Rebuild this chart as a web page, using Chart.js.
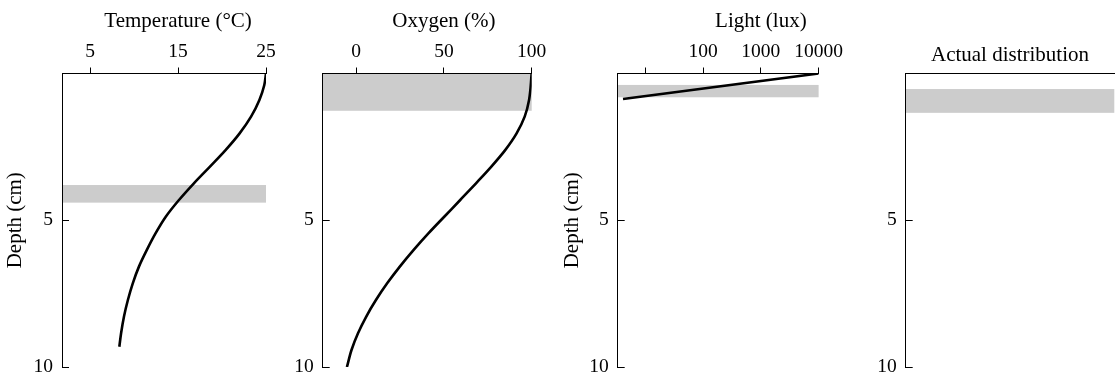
<!DOCTYPE html>
<html>
<head>
<meta charset="utf-8">
<script src="https://cdn.jsdelivr.net/npm/chart.js@4.4.1/dist/chart.umd.min.js"></script>
<style>
  html, body { margin: 0; padding: 0; background: #fff; width: 1118px; height: 377px; overflow: hidden; }
  canvas { position: absolute; top: 0; }
</style>
</head>
<body>
<canvas id="tempChart" width="290" height="400" style="left:0px"></canvas>
<canvas id="oxyChart" width="270" height="400" style="left:290px"></canvas>
<canvas id="lightChart" width="290" height="400" style="left:557px"></canvas>
<canvas id="distChart" width="268" height="400" style="left:850px"></canvas>
<script>
// ---- data ----
const depthTicks = [5, 10];

const tempDepth  = [0, 0.4, 0.9, 1.47, 2.04, 2.61, 3.18, 3.74, 4.31, 4.88, 5.44, 6.01, 6.58, 7.15, 7.71, 8.28, 8.85, 9.31];
const tempValues = [25, 24.8, 24.25, 23.3, 22.0, 20.4, 18.6, 16.8, 15.1, 13.6, 12.45, 11.45, 10.55, 9.85, 9.3, 8.85, 8.52, 8.32];
const tempTicks  = [5, 15, 25];
const tempBand   = [3.8, 4.4];

const oxyDepth  = [0, 0.9, 1.47, 2.04, 2.61, 3.18, 3.74, 4.31, 4.88, 5.44, 6.01, 6.58, 7.15, 7.71, 8.28, 8.85, 9.42, 10];
const oxyValues = [100, 98.5, 96, 91.4, 84.9, 76.9, 68.3, 59.3, 50.2, 41.3, 32.8, 24.9, 17.7, 11.4, 5.8, 1.1, -2.6, -5.2];
const oxyTicks  = [0, 50, 100];
const oxyBand   = [0, 1.27];

const lightDepth  = [0, 0.87];
const lightValues = [10000, 4.1];
const lightTicks  = [10, 100, 1000, 10000];
const lightBand   = [0.39, 0.81];

const distBand = [0.53, 1.34];

// ---- styling ----
const FONT = "'Liberation Serif', 'Times New Roman', serif";
const tickFont = { family: FONT, size: 19.5 };
const TITLE_SIZE = 21;
const BAND_COLOR = "#cccccc";
const AXIS_TOP = 73.5;   // height reserved for the top axis
const PAD_BOTTOM = 33;   // canvas is 400 tall, plot ends at 367

const bandPlugin = {
  id: "band",
  beforeDraw(chart, args, opts) {
    if (!opts.range) return;
    const { ctx, chartArea, scales } = chart;
    const top = scales.y.getPixelForValue(opts.range[0]);
    const bottom = scales.y.getPixelForValue(opts.range[1]);
    ctx.save();
    ctx.fillStyle = BAND_COLOR;
    ctx.fillRect(chartArea.left, top, chartArea.right - chartArea.left, bottom - top);
    ctx.restore();
  }
};

// panel heading, centred over the labelled part of the top axis
const headPlugin = {
  id: "head",
  afterDraw(chart, args, opts) {
    if (!opts.text) return;
    const { ctx, scales } = chart;
    const cx = (scales.x.getPixelForValue(opts.from) + scales.x.getPixelForValue(opts.to)) / 2;
    ctx.save();
    ctx.font = TITLE_SIZE + "px " + FONT;
    ctx.fillStyle = "#000";
    ctx.textAlign = "center";
    ctx.textBaseline = "middle";
    ctx.fillText(opts.text, cx, opts.y);
    ctx.restore();
  }
};

function curve(depths, values) {
  return {
    data: depths.map((d, i) => ({ x: values[i], y: d })),
    borderColor: "#000",
    borderWidth: 2.6,
    pointRadius: 0,
    cubicInterpolationMode: "monotone",
    fill: false
  };
}

function makePanel(id, cfg) {
  const xScale = Object.assign({
    position: "top",
    afterBuildTicks: s => { s.ticks = cfg.xTicks.map(v => ({ value: v })); },
    afterFit: s => { s.height = AXIS_TOP; },
    grid: { drawOnChartArea: false, tickLength: 6, tickColor: "#000", tickWidth: 1 },
    border: { color: "#000", width: 1 },
    ticks: {
      display: cfg.xTicks.length > 0,
      padding: 4,
      color: "#000",
      font: tickFont,
      maxRotation: 0,
      autoSkip: false
    }
  }, cfg.x);

  return new Chart(document.getElementById(id), {
    type: "line",
    data: { datasets: cfg.datasets },
    options: {
      responsive: false,
      animation: false,
      indexAxis: "y",
      layout: { padding: { left: 0, top: 0, right: cfg.padRight, bottom: PAD_BOTTOM } },
      plugins: {
        legend: { display: false },
        tooltip: { enabled: false },
        band: { range: cfg.band },
        head: cfg.head
      },
      scales: {
        x: xScale,
        y: {
          type: "linear",
          reverse: true,
          min: 0,
          max: 10,
          afterBuildTicks: s => { s.ticks = depthTicks.map(v => ({ value: v })); },
          afterFit: s => { s.width = cfg.yWidth; },
          grid: { drawOnChartArea: false, tickLength: -7, tickColor: "#000", tickWidth: 1 },
          border: { color: "#000", width: 1 },
          ticks: { padding: 16, color: "#000", font: tickFont },
          title: {
            display: !!cfg.yTitle,
            text: "Depth (cm)",
            color: "#000",
            font: { family: FONT, size: TITLE_SIZE },
            padding: { top: 3, bottom: 0 }
          }
        }
      }
    },
    plugins: [bandPlugin, headPlugin]
  });
}

makePanel("tempChart", {
  yWidth: 62, padRight: 24, yTitle: true,
  x: { type: "linear", min: 1.8, max: 25 },
  xTicks: tempTicks,
  band: tempBand,
  head: { text: "Temperature (°C)", from: 5, to: 25, y: 21 },
  datasets: [curve(tempDepth, tempValues)]
});

makePanel("oxyChart", {
  yWidth: 32.7, padRight: 28.3, yTitle: false,
  x: { type: "linear", min: -19, max: 100 },
  xTicks: oxyTicks,
  band: oxyBand,
  head: { text: "Oxygen (%)", from: 0, to: 100, y: 21 },
  datasets: [curve(oxyDepth, oxyValues)]
});

makePanel("lightChart", {
  yWidth: 60.7, padRight: 26, yTitle: true,
  x: {
    type: "logarithmic", min: 3.32, max: 10000,
    ticks: {
      padding: 4, color: "#000", font: tickFont, maxRotation: 0, autoSkip: false,
      callback: v => (v === 10 ? "" : String(v))
    }
  },
  xTicks: lightTicks,
  band: lightBand,
  head: { text: "Light (lux)", from: 100, to: 10000, y: 21 },
  datasets: [Object.assign(curve(lightDepth, lightValues), { cubicInterpolationMode: "default", tension: 0 })]
});

makePanel("distChart", {
  yWidth: 55.7, padRight: 3.7, yTitle: false,
  x: { type: "linear", min: 0, max: 1 },
  xTicks: [],
  band: distBand,
  head: { text: "Actual distribution", from: 0, to: 1, y: 55 },
  datasets: []
});
</script>
</body>
</html>
